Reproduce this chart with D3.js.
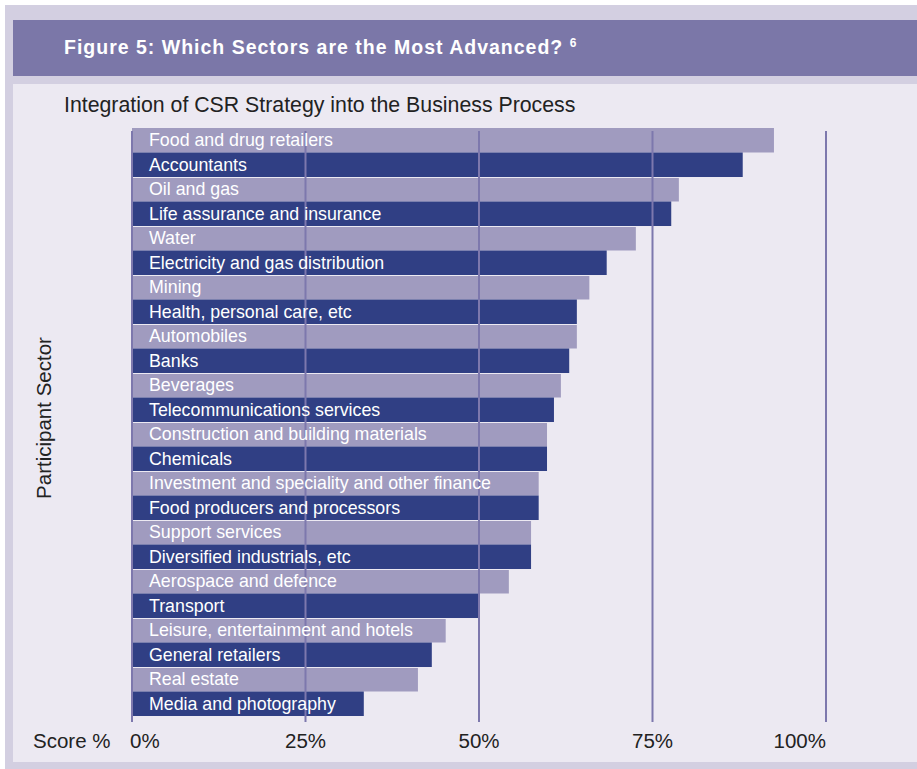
<!DOCTYPE html>
<html>
<head>
<meta charset="utf-8">
<script src="https://cdn.jsdelivr.net/npm/d3@7"></script>
<style>
  body { margin: 0; background: #fff; }
  svg text { font-family: "Liberation Sans", Arial, sans-serif; }
</style>
</head>
<body>
<svg id="chart" width="917" height="769"></svg>
<script>
const sectors = [
  "Food and drug retailers", "Accountants", "Oil and gas", "Life assurance and insurance",
  "Water", "Electricity and gas distribution", "Mining", "Health, personal care, etc",
  "Automobiles", "Banks", "Beverages", "Telecommunications services",
  "Construction and building materials", "Chemicals", "Investment and speciality and other finance",
  "Food producers and processors", "Support services", "Diversified industrials, etc",
  "Aerospace and defence", "Transport", "Leisure, entertainment and hotels",
  "General retailers", "Real estate", "Media and photography"
];
const scores = [92.5, 88, 78.8, 77.7, 72.6, 68.4, 65.9, 64.1, 64.1, 63, 61.8, 60.8,
  59.8, 59.8, 58.6, 58.6, 57.5, 57.5, 54.3, 49.9, 45.2, 43.2, 41.2, 33.4];
const ticks = [0, 25, 50, 75, 100];

const svg = d3.select("#chart");

// frame
svg.append("rect").attr("x", 5).attr("y", 5).attr("width", 912).attr("height", 764).attr("fill", "#d3cfe1");
svg.append("rect").attr("x", 13).attr("y", 20).attr("width", 904).attr("height", 56).attr("fill", "#7b77a8");
svg.append("rect").attr("x", 13).attr("y", 84).attr("width", 904).attr("height", 678).attr("fill", "#ece9f2");

const title = svg.append("text").attr("x", 64).attr("y", 54)
  .attr("fill", "#fff").attr("font-size", 19.5).attr("font-weight", "bold")
  .attr("letter-spacing", 1)
  .text("Figure 5: Which Sectors are the Most Advanced? ");
title.append("tspan").attr("font-size", 12).attr("dy", -7).text("6");

svg.append("text").attr("x", 64).attr("y", 112)
  .attr("fill", "#222").attr("font-size", 21.3)
  .text("Integration of CSR Strategy into the Business Process");

const x = d3.scaleLinear().domain([0, 100]).range([132, 826]);
const y = d3.scaleBand().domain(sectors).range([128, 716]).padding(0);

const bars = svg.append("g");
bars.selectAll("rect").data(sectors).join("rect")
  .attr("x", x(0))
  .attr("y", (d, i) => y(d) + (i % 2 === 0 && i > 0 ? 1 : 0))
  .attr("width", (d, i) => x(scores[i]) - x(0))
  .attr("height", (d, i) => y.bandwidth() - (i % 2 === 0 && i > 0 ? 1 : 0))
  .attr("fill", (d, i) => i % 2 === 0 ? "#a09bbf" : "#303f84");

// grid lines
svg.append("g").selectAll("line").data(ticks).join("line")
  .attr("x1", d => x(d)).attr("x2", d => x(d))
  .attr("y1", 131).attr("y2", 722)
  .attr("stroke", "#7d78ad").attr("stroke-width", 2);

// bar labels
svg.append("g").selectAll("text").data(sectors).join("text")
  .attr("x", 149)
  .attr("y", d => y(d) + y.bandwidth() / 2 + 6)
  .attr("fill", "#fff").attr("font-size", 17.8)
  .text(d => d);

// axis labels
svg.append("g").selectAll("text").data(ticks).join("text")
  .attr("x", d => x(d))
  .attr("y", 748)
  .attr("text-anchor", d => d === 0 ? "start" : d === 100 ? "end" : "middle")
  .attr("dx", d => d === 0 ? -2 : 0)
  .attr("fill", "#222").attr("font-size", 20.5)
  .text(d => d + "%");

svg.append("text").attr("x", 33).attr("y", 748)
  .attr("fill", "#222").attr("font-size", 20.5).text("Score %");

svg.append("text")
  .attr("transform", "translate(51,418) rotate(-90)")
  .attr("text-anchor", "middle")
  .attr("fill", "#222").attr("font-size", 20.5)
  .text("Participant Sector");
</script>
</body>
</html>
